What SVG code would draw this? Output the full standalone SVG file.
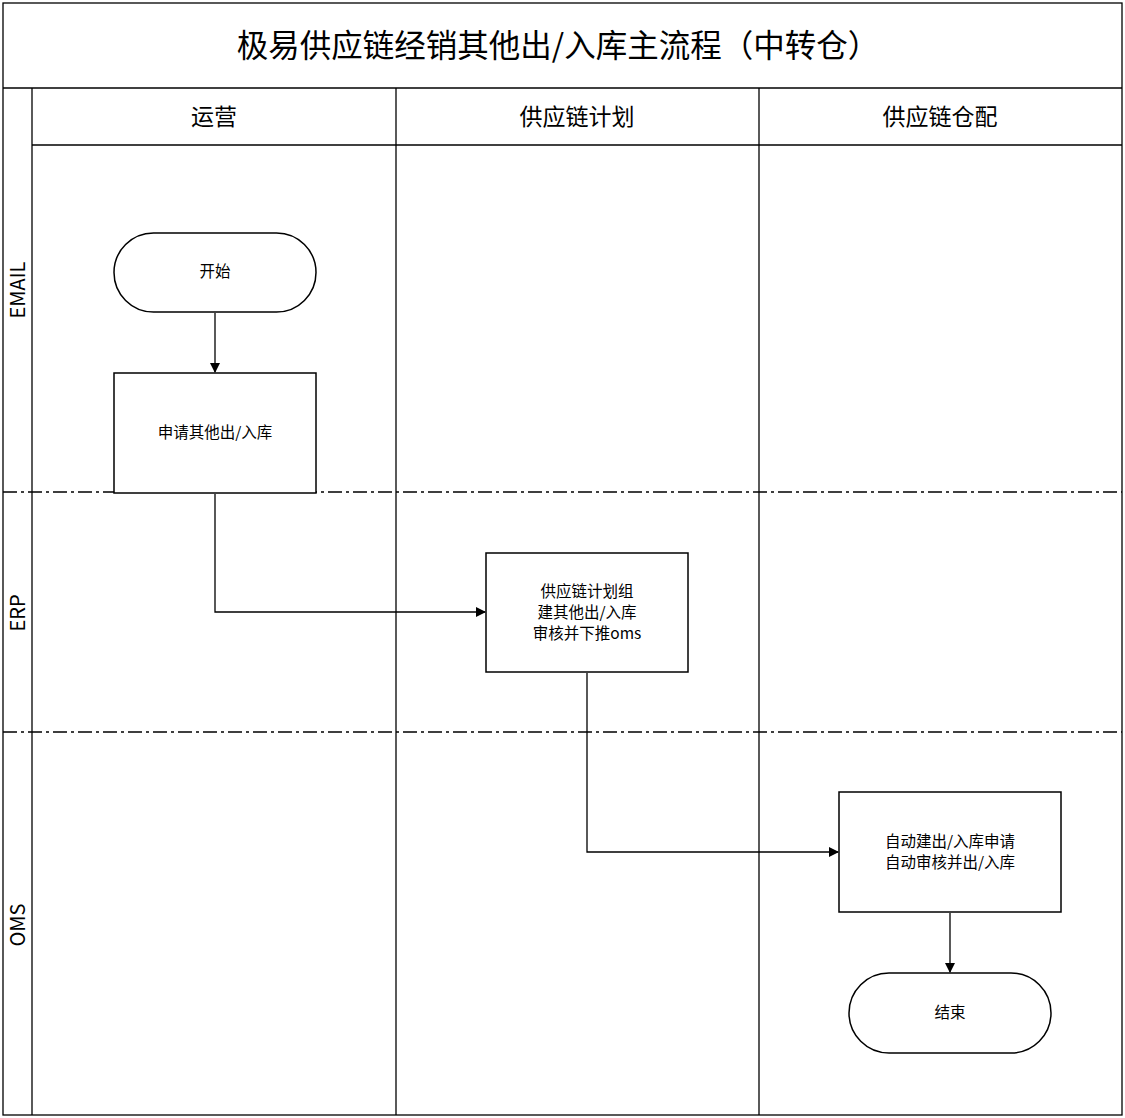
<svg xmlns="http://www.w3.org/2000/svg" width="1125" height="1118" viewBox="0 0 1125 1118">
<style>
text{font-family:"Noto Sans CJK SC","Liberation Sans",sans-serif;fill:#000;text-anchor:middle}
.ln{stroke:#000;stroke-width:1.3;fill:none}
.dd{stroke:#000;stroke-width:1.3;stroke-dasharray:14 4 3 4;fill:none}
.nd{fill:#fff;stroke:#000;stroke-width:1.5}
.t{font-size:15.5px}
.h{font-size:23px}
</style>
<defs><marker id="a" markerWidth="10" markerHeight="10" refX="9" refY="5" orient="auto" markerUnits="userSpaceOnUse"><path d="M0,0 L10,5 L0,10 z" fill="#000"/></marker></defs>
<rect width="1125" height="1118" fill="#fff"/>
<g id="frame">
<rect x="3" y="3" width="1119" height="1112" class="ln"/>
<line x1="3" y1="88" x2="1122" y2="88" class="ln"/>
<line x1="32" y1="145" x2="1122" y2="145" class="ln"/>
<line x1="32" y1="88" x2="32" y2="1115" class="ln"/>
<line x1="396" y1="88" x2="396" y2="1115" class="ln"/>
<line x1="759" y1="88" x2="759" y2="1115" class="ln"/>
<line x1="3" y1="492" x2="1122" y2="492" class="dd"/>
<line x1="3" y1="732" x2="1122" y2="732" class="dd"/>
<text x="558" y="57" font-size="31.5">极易供应链经销其他出/入库主流程（中转仓）</text>
<text x="214" y="125" class="h">运营</text>
<text x="577" y="125" class="h">供应链计划</text>
<text x="940" y="125" class="h">供应链仓配</text>
<text transform="translate(25,290) rotate(-90)" font-size="20">EMAIL</text>
<text transform="translate(25,613) rotate(-90)" font-size="20">ERP</text>
<text transform="translate(25,925) rotate(-90)" font-size="20">OMS</text>
</g>
<g id="connectors">
<path d="M215,313 V372" class="ln" marker-end="url(#a)"/>
<path d="M215,494 V612 H485" class="ln" marker-end="url(#a)"/>
<path d="M587,673 V852 H838" class="ln" marker-end="url(#a)"/>
<path d="M950,913 V972" class="ln" marker-end="url(#a)"/>
</g>
<g id="start"><rect x="114" y="233" width="202" height="79" rx="39.5" class="nd"/><text x="215" y="277" class="t">开始</text></g>
<g id="apply"><rect x="114" y="373" width="202" height="120" class="nd"/><text x="215" y="438" class="t">申请其他出/入库</text></g>
<g id="plan"><rect x="486" y="553" width="202" height="119" class="nd"/><text x="587" y="597" class="t">供应链计划组</text><text x="587" y="618" class="t">建其他出/入库</text><text x="587" y="639" class="t">审核并下推oms</text></g>
<g id="auto"><rect x="839" y="792" width="222" height="120" class="nd"/><text x="950" y="847" class="t">自动建出/入库申请</text><text x="950" y="868" class="t">自动审核并出/入库</text></g>
<g id="end"><rect x="849" y="973" width="202" height="80" rx="40" class="nd"/><text x="950" y="1018" class="t">结束</text></g>
</svg>
